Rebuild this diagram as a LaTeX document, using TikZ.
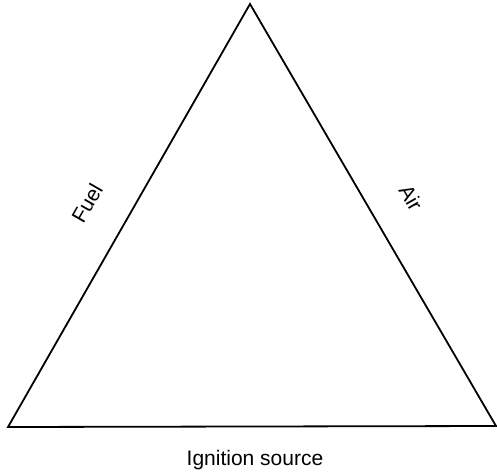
\documentclass[tikz,border=0pt]{standalone}
\usepackage{fontspec}
\setmainfont{Liberation Sans}
\usetikzlibrary{positioning}

\begin{document}
\begin{tikzpicture}[
  x=1pt, y=-1pt,
  side/.style={draw, line width=1.8pt, line join=miter},
  lbl/.style={font=\fontsize{21}{25}\selectfont, inner sep=0pt}]
  \useasboundingbox (0,0) rectangle (497,473);
  \coordinate (apex) at (250,4);
  \coordinate (left) at (8,427);
  \coordinate (right) at (496,426);
  \draw[side] (apex) -- (left) -- (right) -- cycle;
  \node[lbl, rotate=60] (fuel) at (87,203) {Fuel};
  \node[lbl, rotate=-60] (air) at (411,198) {Air};
  \node[lbl] (ignition) at (255,460) {Ignition source};
\end{tikzpicture}
\end{document}
